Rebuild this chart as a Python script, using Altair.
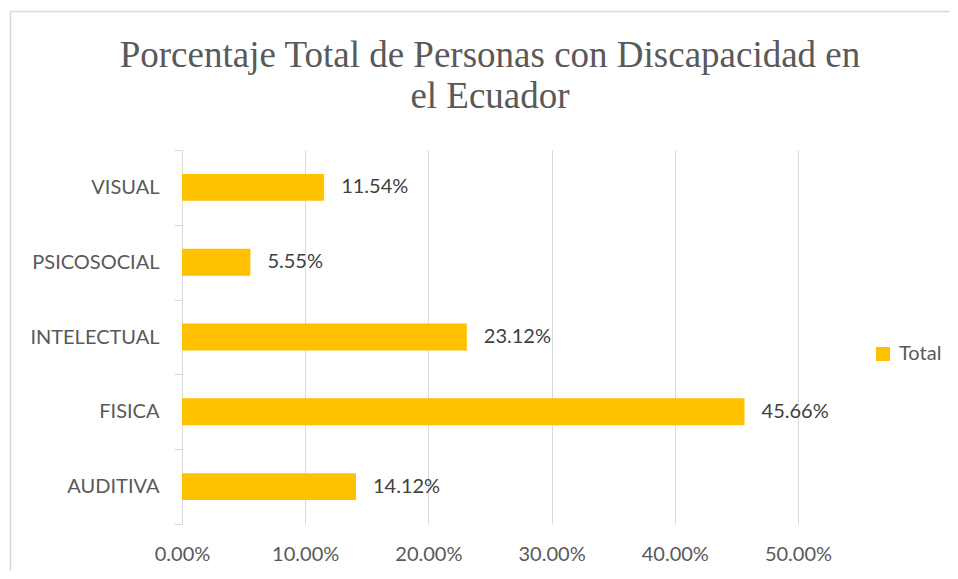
import altair as alt
import pandas as pd

categories = ["VISUAL", "PSICOSOCIAL", "INTELECTUAL", "FISICA", "AUDITIVA"]
values = [0.1154, 0.0555, 0.2312, 0.4566, 0.1412]
series = ["Total"] * len(categories)
x_ticks = [0.0, 0.1, 0.2, 0.3, 0.4, 0.5]

df = pd.DataFrame({"cat": categories, "val": values, "serie": series})

FONT = "Lato"
GRAY = "#595959"
LINE = "#D9D9D9"

y_enc = alt.Y(
    "cat:N",
    sort=categories,
    scale=alt.Scale(paddingInner=0, paddingOuter=0),
    axis=alt.Axis(
        title=None,
        labelFont=FONT,
        labelFontSize=20,
        labelColor=GRAY,
        domainColor=LINE,
        tickColor=LINE,
        tickSize=8,
        labelPadding=15,
        tickBand="extent",
        grid=False,
    ),
)

x_enc = alt.X(
    "val:Q",
    scale=alt.Scale(domain=[0, 0.5], nice=False),
    axis=alt.Axis(
        title=None,
        format=".2%",
        values=x_ticks,
        grid=True,
        gridColor=LINE,
        domain=False,
        ticks=False,
        labelFlush=False,
        labelFont=FONT,
        labelFontSize=20,
        labelColor=GRAY,
        labelPadding=20,
    ),
)

bars = alt.Chart(df).mark_bar(color="#FFC000", height={"band": 0.36}).encode(
    x=x_enc,
    y=y_enc,
    color=alt.Color(
        "serie:N",
        scale=alt.Scale(range=["#FFC000"]),
        legend=alt.Legend(
            title=None,
            orient="none",
            legendX=691,
            legendY=194,
            padding=0,
            symbolType="square",
            symbolSize=196,
            symbolStrokeWidth=0,
            symbolOpacity=1,
            labelFont=FONT,
            labelFontSize=20,
            labelColor=GRAY,
            labelOffset=6,
        ),
    ),
)

labels = alt.Chart(df).mark_text(
    align="left", baseline="middle", dx=17, font=FONT, fontSize=20, color="#404040"
).encode(
    x="val:Q",
    y=alt.Y("cat:N", sort=categories),
    text=alt.Text("val:Q", format=".2%"),
)

border = alt.Chart(alt.Data(values=[{"a": 1}])).mark_rect(
    fill="transparent", stroke=LINE, strokeWidth=1.5, clip=False
).encode(
    x=alt.value(-171.5), x2=alt.value(900), y=alt.value(-138.5), y2=alt.value(500)
)

chart = (
    alt.layer(border, bars, labels)
    .properties(
        width=616,
        height=374,
        background="white",
        autosize=alt.AutoSizeParams(type="none"),
        padding={"left": 174, "top": 142, "right": 152, "bottom": 47},
        title=alt.TitleParams(
            text=["Porcentaje Total de Personas con Discapacidad en", "el Ecuador"],
            font="Liberation Serif",
            fontSize=37,
            fontWeight="normal",
            color=GRAY,
            lineHeight=41,
            anchor="middle",
            frame="group",
            offset=-105,
        ),
    )
    .configure_view(strokeWidth=0, stroke="transparent")
)

chart.save("out.html", embed_options={"renderer": "svg", "actions": False})
